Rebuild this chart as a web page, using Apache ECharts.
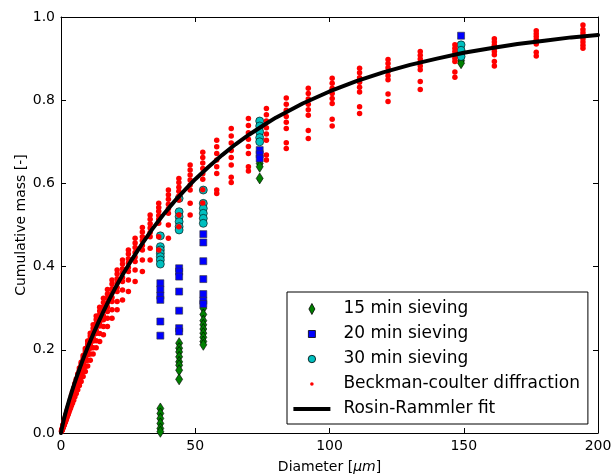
<!DOCTYPE html>
<html><head><meta charset="utf-8">
<script src="https://cdn.jsdelivr.net/npm/echarts@6/dist/echarts.min.js"></script>
<style>html,body{margin:0;padding:0;background:#fff}#c{width:611px;height:474px}</style>
</head><body><div id="c"></div>
<script>
// ---- data ----
const xTicks = [0, 50, 100, 150, 200];
const yTicks = [0, 0.2, 0.4, 0.6, 0.8, 1.0];
const seriesNames = ['15 min sieving', '20 min sieving', '30 min sieving', 'Beckman-coulter diffraction', 'Rosin-Rammler fit'];

const sieveDiam = [37, 44, 53, 74, 149];
const sieve15 = [
  [0.059, 0.047, 0.035, 0.023, 0.011, 0.003],
  [0.216, 0.204, 0.195, 0.183, 0.171, 0.163, 0.151, 0.129],
  [0.300, 0.285, 0.270, 0.260, 0.250, 0.240, 0.230, 0.220, 0.212],
  [0.648, 0.640, 0.612],
  [0.895, 0.889]
];
const sieve20 = [
  [0.360, 0.345, 0.330, 0.320, 0.268, 0.234],
  [0.396, 0.388, 0.376, 0.340, 0.294, 0.252, 0.244],
  [0.478, 0.458, 0.413, 0.370, 0.334, 0.318, 0.310],
  [0.680, 0.670, 0.660],
  [0.955, 0.910]
];
const sieve30 = [
  [0.474, 0.448, 0.440, 0.432, 0.424, 0.416, 0.406],
  [0.564, 0.532, 0.520, 0.508, 0.496, 0.488],
  [0.584, 0.552, 0.540, 0.528, 0.516, 0.504],
  [0.750, 0.738, 0.724, 0.710, 0.700],
  [0.933, 0.920, 0.905]
];

const bcDiam = [0.2, 0.4, 0.6, 0.8, 0.88, 0.96, 1.06, 1.16, 1.27, 1.4, 1.54, 1.69, 1.85, 2.03, 2.23, 2.45, 2.69, 2.95,
  3.24, 3.56, 3.9, 4.3, 4.71, 5.17, 5.68, 6.23, 6.84, 7.5, 8.24, 9.05, 9.93, 10.9, 11.97, 13.1, 14.4,
  15.8, 17.3, 19.0, 20.9, 22.9, 25.1, 27.6, 30.3, 33.2, 36.4, 40.0, 43.9, 48.1, 52.8, 58.0, 63.4, 69.8,
  76.5, 83.9, 92.1, 101, 111.2, 121.8, 133.8, 146.7, 161.4, 177, 194.4];
const bcCum = [
  [0.005, 0.004],
  [0.009, 0.008, 0.008, 0.007, 0.007],
  [0.014, 0.013, 0.012, 0.011, 0.010],
  [0.019, 0.018, 0.016, 0.015, 0.014],
  [0.021, 0.020, 0.018, 0.017, 0.015],
  [0.023, 0.021, 0.020, 0.018, 0.017],
  [0.025, 0.023, 0.021, 0.020, 0.018],
  [0.027, 0.025, 0.023, 0.021, 0.020],
  [0.030, 0.028, 0.026, 0.024, 0.022],
  [0.033, 0.031, 0.028, 0.026, 0.024],
  [0.036, 0.033, 0.031, 0.028, 0.026],
  [0.039, 0.036, 0.034, 0.031, 0.028],
  [0.043, 0.040, 0.037, 0.034, 0.031],
  [0.047, 0.044, 0.040, 0.037, 0.034],
  [0.052, 0.048, 0.045, 0.041, 0.038],
  [0.057, 0.053, 0.049, 0.045, 0.042],
  [0.062, 0.058, 0.053, 0.049, 0.045],
  [0.068, 0.063, 0.058, 0.054, 0.050],
  [0.075, 0.070, 0.065, 0.059, 0.055],
  [0.082, 0.076, 0.071, 0.065, 0.060],
  [0.090, 0.084, 0.077, 0.071, 0.066],
  [0.099, 0.096, 0.093, 0.090, 0.087, 0.084, 0.078, 0.072],
  [0.108, 0.105, 0.102, 0.098, 0.095, 0.092, 0.085, 0.079],
  [0.119, 0.115, 0.112, 0.108, 0.105, 0.101, 0.094, 0.087],
  [0.130, 0.126, 0.122, 0.118, 0.114, 0.111, 0.103, 0.095],
  [0.142, 0.138, 0.133, 0.129, 0.125, 0.121, 0.112, 0.104],
  [0.156, 0.151, 0.147, 0.142, 0.137, 0.133, 0.123, 0.114],
  [0.170, 0.165, 0.160, 0.155, 0.150, 0.145, 0.134, 0.124],
  [0.186, 0.180, 0.175, 0.169, 0.164, 0.158, 0.147, 0.136],
  [0.203, 0.197, 0.191, 0.185, 0.179, 0.173, 0.160, 0.148],
  [0.221, 0.214, 0.208, 0.201, 0.194, 0.188, 0.175, 0.161],
  [0.240, 0.233, 0.226, 0.218, 0.211, 0.204, 0.190, 0.175],
  [0.260, 0.252, 0.244, 0.237, 0.229, 0.221, 0.205, 0.190],
  [0.281, 0.273, 0.264, 0.256, 0.247, 0.239, 0.222, 0.205],
  [0.302, 0.293, 0.284, 0.275, 0.266, 0.257, 0.239, 0.220],
  [0.324, 0.314, 0.303, 0.293, 0.282, 0.272, 0.256, 0.236],
  [0.345, 0.334, 0.324, 0.313, 0.303, 0.292, 0.276, 0.256],
  [0.368, 0.358, 0.347, 0.337, 0.326, 0.316, 0.296, 0.276],
  [0.392, 0.382, 0.371, 0.361, 0.350, 0.340, 0.316, 0.296],
  [0.416, 0.406, 0.395, 0.385, 0.374, 0.364, 0.344, 0.320],
  [0.440, 0.430, 0.419, 0.409, 0.398, 0.388, 0.368, 0.340],
  [0.468, 0.457, 0.446, 0.434, 0.423, 0.412, 0.392, 0.364],
  [0.494, 0.483, 0.472, 0.462, 0.451, 0.440, 0.416, 0.388],
  [0.524, 0.514, 0.503, 0.493, 0.482, 0.472, 0.444, 0.416],
  [0.552, 0.542, 0.533, 0.523, 0.514, 0.504, 0.472, 0.440],
  [0.584, 0.573, 0.562, 0.550, 0.539, 0.528, 0.500, 0.468],
  [0.612, 0.602, 0.591, 0.581, 0.570, 0.560, 0.524, 0.496],
  [0.644, 0.632, 0.620, 0.608, 0.596, 0.584, 0.552, 0.524],
  [0.675, 0.662, 0.649, 0.636, 0.623, 0.610, 0.585, 0.553],
  [0.704, 0.688, 0.672, 0.656, 0.640, 0.624, 0.584, 0.576],
  [0.732, 0.714, 0.697, 0.679, 0.662, 0.644, 0.615, 0.602],
  [0.756, 0.739, 0.722, 0.706, 0.689, 0.672, 0.640, 0.630],
  [0.780, 0.765, 0.750, 0.734, 0.719, 0.704, 0.668, 0.656],
  [0.805, 0.790, 0.776, 0.761, 0.747, 0.732, 0.698, 0.684],
  [0.829, 0.816, 0.803, 0.790, 0.777, 0.764, 0.727, 0.708],
  [0.853, 0.841, 0.829, 0.816, 0.804, 0.792, 0.754, 0.738],
  [0.877, 0.866, 0.854, 0.843, 0.831, 0.820, 0.784, 0.768],
  [0.898, 0.888, 0.878, 0.869, 0.859, 0.849, 0.815, 0.797],
  [0.917, 0.908, 0.899, 0.891, 0.882, 0.873, 0.845, 0.826],
  [0.933, 0.925, 0.917, 0.909, 0.901, 0.893, 0.868, 0.855],
  [0.948, 0.940, 0.932, 0.925, 0.917, 0.909, 0.893, 0.882],
  [0.967, 0.960, 0.953, 0.946, 0.940, 0.935, 0.915, 0.906],
  [0.981, 0.970, 0.962, 0.955, 0.948, 0.940, 0.932, 0.925]
];

const fitDiam = [0, 0.25, 0.5, 1, 1.5, 2, 3, 4, 5, 6, 8, 10, 12, 14, 16, 18, 20, 23, 26, 30, 34, 38, 42, 46, 50,
  55, 60, 65, 70, 75, 80, 90, 100, 110, 120, 130, 140, 150, 160, 170, 180, 190, 200];
const fitCum = [0, 0.009, 0.017, 0.031, 0.044, 0.056, 0.078, 0.099, 0.119, 0.138, 0.174, 0.207, 0.238, 0.267,
  0.295, 0.321, 0.346, 0.381, 0.413, 0.453, 0.490, 0.524, 0.555, 0.583, 0.610, 0.640, 0.668, 0.694, 0.717,
  0.738, 0.758, 0.792, 0.821, 0.846, 0.867, 0.885, 0.900, 0.914, 0.925, 0.935, 0.943, 0.951, 0.957];

// ---- build ----
function columns(diam, vals) {
  const out = [];
  diam.forEach((d, i) => vals[i].forEach(v => out.push([d, v])));
  return out;
}
const FONT = 'DejaVu Sans';
const chart = echarts.init(document.getElementById('c'), null, {renderer: 'canvas'});

const axisCommon = {
  axisLine: {show: true, onZero: false, lineStyle: {color: '#000', width: 1}},
  axisTick: {show: true, inside: true, length: 5, lineStyle: {color: '#000', width: 1}},
  splitLine: {show: false}
};

const W = 37, H = 14;
const frame = 'path://M0,0M' + W + ',' + H;
const legendIcons = [
  frame + 'M18.5,1.5L21.5,7L18.5,12.5L15.5,7Z',
  frame + 'M15,3.5L22,3.5L22,10.5L15,10.5Z',
  frame + 'M14.8,7A3.7,3.7 0 1 1 22.2,7A3.7,3.7 0 1 1 14.8,7Z',
  frame + 'M16.7,7A1.8,1.8 0 1 1 20.3,7A1.8,1.8 0 1 1 16.7,7Z',
  frame + 'M0,5L37,5L37,9L0,9Z'
];
const legendColors = ['#008000', '#0000ff', '#00bfbf', '#ff0000', '#000000'];
const legendBorders = [0.8, 0.8, 0.8, 0, 0];

const option = {
  animation: false,
  backgroundColor: '#fff',
  grid: {left: 61, right: 13, top: 17, bottom: 41, containLabel: false, outerBoundsMode: 'none'},
  xAxis: [
    Object.assign({
      type: 'value', min: xTicks[0], max: xTicks[xTicks.length - 1], interval: 50, position: 'bottom',
      name: 'Diameter [{i|μm}]', nameLocation: 'middle', nameGap: 27, nameMoveOverlap: false,
      nameTextStyle: {fontFamily: FONT, fontSize: 14, color: '#000',
        rich: {i: {fontFamily: FONT, fontStyle: 'italic', fontSize: 14, color: '#000'}}},
      axisLabel: {show: true, margin: 6, fontFamily: FONT, fontSize: 14, color: '#000'}
    }, axisCommon),
    Object.assign({
      type: 'value', min: xTicks[0], max: xTicks[xTicks.length - 1], interval: 50, position: 'top',
      axisLabel: {show: false}
    }, axisCommon)
  ],
  yAxis: [
    Object.assign({
      type: 'value', min: yTicks[0], max: yTicks[yTicks.length - 1], interval: 0.2, position: 'left',
      name: 'Cumulative mass [-]', nameLocation: 'middle', nameGap: 33, nameMoveOverlap: false,
      nameTextStyle: {fontFamily: FONT, fontSize: 14, color: '#000'},
      axisLabel: {show: true, margin: 6, fontFamily: FONT, fontSize: 14, color: '#000',
        formatter: v => v.toFixed(1)}
    }, axisCommon),
    Object.assign({
      type: 'value', min: yTicks[0], max: yTicks[yTicks.length - 1], interval: 0.2, position: 'right',
      axisLabel: {show: false}
    }, axisCommon)
  ],
  legend: {
    orient: 'vertical', left: 287, top: 292,
    padding: [7, 8, 5, 6],
    itemWidth: W, itemHeight: H, itemGap: 5,
    borderColor: '#000', borderWidth: 1, backgroundColor: '#fff',
    textStyle: {fontFamily: FONT, fontSize: 17, lineHeight: 20, color: '#000', padding: [0, 0, 0, 8]},
    selectedMode: false,
    data: seriesNames.map((n, i) => ({
      name: n, icon: legendIcons[i],
      itemStyle: {color: legendColors[i], borderColor: '#000', borderWidth: legendBorders[i]}
    }))
  },
  series: [
    {name: seriesNames[0], type: 'scatter', data: columns(sieveDiam, sieve15),
     symbol: 'diamond', symbolSize: [7, 11],
     itemStyle: {color: '#008000', borderColor: '#000', borderWidth: 0.6, opacity: 1}},
    {name: seriesNames[1], type: 'scatter', data: columns(sieveDiam, sieve20),
     symbol: 'rect', symbolSize: 7,
     itemStyle: {color: '#0000ff', borderColor: '#333', borderWidth: 0.6, opacity: 1}},
    {name: seriesNames[2], type: 'scatter', data: columns(sieveDiam, sieve30),
     symbol: 'circle', symbolSize: 8,
     itemStyle: {color: '#00bfbf', borderColor: '#000', borderWidth: 0.6, opacity: 1}},
    {name: seriesNames[3], type: 'scatter', data: columns(bcDiam, bcCum),
     symbol: 'circle', symbolSize: 5.5, large: false,
     itemStyle: {color: '#ff0000', borderWidth: 0, opacity: 1}},
    {name: seriesNames[4], type: 'line', data: fitDiam.map((d, i) => [d, fitCum[i]]),
     showSymbol: false, symbol: 'none', smooth: false, color: '#000',
     lineStyle: {color: '#000', width: 4, join: 'round', cap: 'round'}, z: 3}
  ]
};
chart.setOption(option);
</script>
</body></html>
